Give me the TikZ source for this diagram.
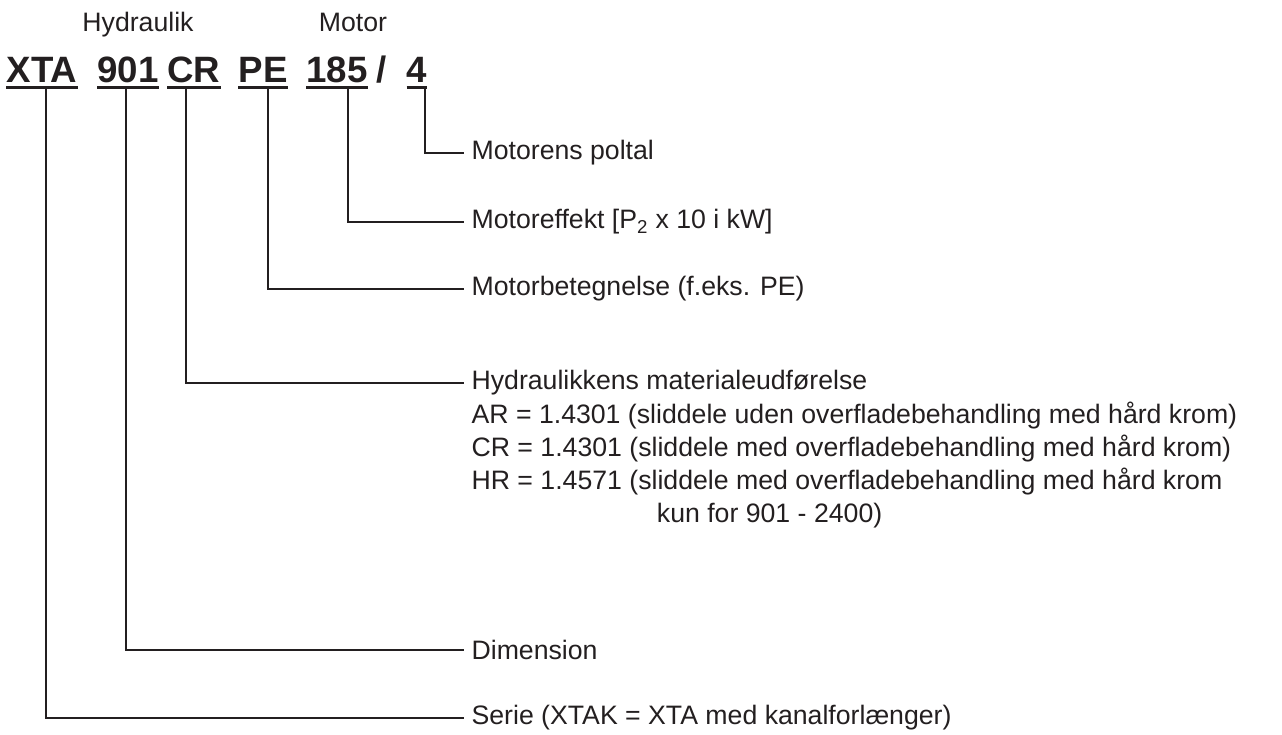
\documentclass[tikz,border=0pt]{standalone}
\usepackage{fontspec}
\setmainfont{Liberation Sans}
\usetikzlibrary{positioning}
\definecolor{ink}{HTML}{231F20}

\tikzset{
  code/.style={font=\fontsize{27.5}{30}\selectfont\bfseries, text=ink, inner sep=0pt, anchor=base},
  head/.style={font=\fontsize{20}{24}\selectfont, text=ink, inner sep=0pt, anchor=base},
  lbl/.style={font=\fontsize{20}{24.75}\selectfont, text=ink, anchor=west, inner xsep=5.5pt, inner ysep=0pt},
  conn/.style={draw=ink, line width=1.1pt},
  uline/.style={draw=ink, line width=2.2pt}
}

\begin{document}
\begin{tikzpicture}[x=0.75pt, y=-0.75pt]
  \useasboundingbox (0,0) rectangle (1282,735);

  % group headings
  \node[head] (hyd) at (138,32) {Hydraulik};
  \node[head] (mot) at (353,32) {Motor};

  % type code
  \node[code] (xta) at (42,83) {XTA};
  \node[code] (dim) at (128,83) {901};
  \node[code] (mat) at (194,83) {CR};
  \node[code] (mtype) at (263,83) {PE};
  \node[code] (pwr) at (337,83) {185};
  \node[code] (slash) at (382,83) {/};
  \node[code] (pole) at (417,83) {4};

  \foreach \c in {xta,dim,mat,mtype,pwr,pole}
    \draw[uline] ([yshift=-3.2pt]\c.base west) -- ([yshift=-3.2pt]\c.base east);

  % feet of the connectors
  \coordinate (xtaF)   at (46,89);
  \coordinate (dimF)   at (126,89);
  \coordinate (matF)   at (186,89);
  \coordinate (mtypeF) at (268,89);
  \coordinate (pwrF)   at (348,89);
  \coordinate (poleF)  at (425,89);

  % explanations
  \node[lbl] (poleT)  at (464,153) {Motorens poltal};
  \node[lbl] (pwrT)   at (464,222) {Motoreffekt [P\textsubscript{2} x 10 i kW]};
  \node[lbl] (mtypeT) at (464,289) {Motorbetegnelse (f.eks. PE)};
  \node[lbl] (matT)   at (464,383) {\strut Hydraulikkens materialeudførelse};
  \node[lbl, align=left, anchor=north west] (matO) at (matT.south west)
    {\strut AR = 1.4301 (sliddele uden overfladebehandling med hård krom)\\
     CR = 1.4301 (sliddele med overfladebehandling med hård krom)\\
     HR = 1.4571 (sliddele med overfladebehandling med hård krom\\
     \hspace{139pt}kun for 901 - 2400)};
  \node[lbl] (dimT)   at (464,650) {Dimension};
  \node[lbl] (xtaT)   at (464,718) {Serie (XTAK = XTA med kanalforlænger)};

  \draw[conn] (poleF)  |- (poleT.west);
  \draw[conn] (pwrF)   |- (pwrT.west);
  \draw[conn] (mtypeF) |- (mtypeT.west);
  \draw[conn] (matF)   |- (matT.west);
  \draw[conn] (dimF)   |- (dimT.west);
  \draw[conn] (xtaF)   |- (xtaT.west);
\end{tikzpicture}
\end{document}
